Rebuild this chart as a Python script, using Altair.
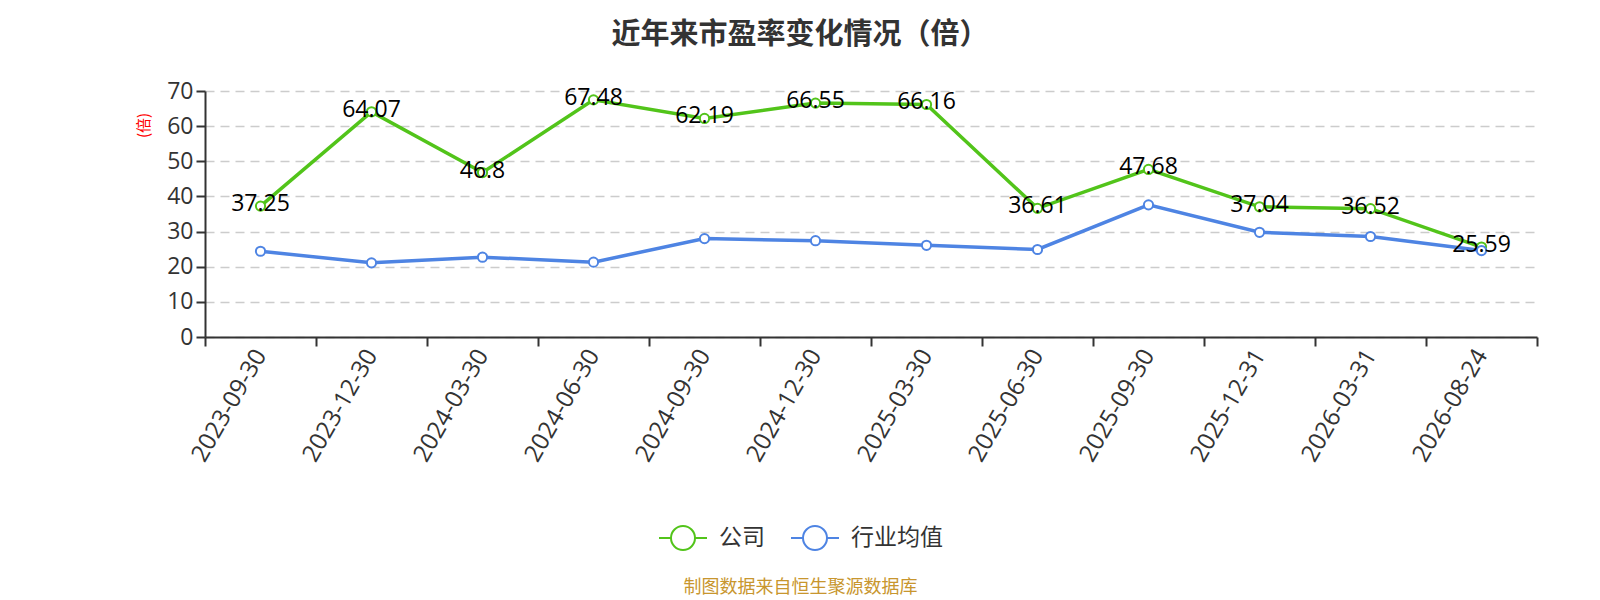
import altair as alt
import pandas as pd

dates = ["2023-09-30", "2023-12-30", "2024-03-30", "2024-06-30", "2024-09-30", "2024-12-30",
         "2025-03-30", "2025-06-30", "2025-09-30", "2025-12-31", "2026-03-31", "2026-08-24"]
company = [37.25, 64.07, 46.8, 67.48, 62.19, 66.55, 66.16, 36.61, 47.68, 37.04, 36.52, 25.59]
industry = [24.4, 21.1, 22.7, 21.3, 28.0, 27.4, 26.1, 24.9, 37.6, 29.8, 28.6, 24.6]
series_names = ["公司", "行业均值"]
series_colors = ["#52c41a", "#4e84e3"]
y_ticks = [0, 10, 20, 30, 40, 50, 60, 70]

rows = []
for d, c, i in zip(dates, company, industry):
    rows.append({"date": d, "series": series_names[0], "value": c, "order": 0})
    rows.append({"date": d, "series": series_names[1], "value": i, "order": 1})
df = pd.DataFrame(rows)

FONT = "Noto Sans CJK SC"
NUMFONT = "Open Sans"
legend_path = "M-1,0L-0.5,0M0.5,0L1,0M0.5,0A0.5,0.5,0,1,1,-0.5,0A0.5,0.5,0,1,1,0.5,0"

x_enc = alt.X(
    "date:N", sort=dates,
    scale=alt.Scale(paddingInner=0, paddingOuter=0),
    axis=alt.Axis(
        title="制图数据来自恒生聚源数据库", titleColor="#c8962e", titleFontSize=18,
        titleFontWeight="normal", titleFont=FONT, titleX=595, titleY=250,
        titleAlign="center", titleBaseline="middle", titleAnchor="start",
        labelAngle=-60, labelFontSize=24, labelColor="#333", labelFont=NUMFONT,
        labelPadding=5, tickBand="extent", tickSize=9, tickWidth=2, tickColor="#333",
        domainColor="#333", domainWidth=2, grid=False,
    ),
)
y_enc = alt.Y(
    "value:Q",
    scale=alt.Scale(domain=[0, 70], nice=False),
    axis=alt.Axis(
        values=y_ticks, title="(倍)", titleColor="#ff0000", titleFontSize=15,
        titleFontWeight="normal", titleFont=FONT, titleAngle=-90, titleX=-62, titleY=34,
        titleAlign="center", titleBaseline="middle",
        labelFontSize=23, labelColor="#333", labelFont=NUMFONT, labelPadding=3,
        tickSize=9, tickWidth=2, tickColor="#333", domainColor="#333", domainWidth=2,
        grid=True, gridColor="#cccccc", gridDash=[9, 6], gridWidth=1.3,
    ),
)
color_enc = alt.Color(
    "series:N",
    scale=alt.Scale(domain=series_names, range=series_colors),
    legend=alt.Legend(
        title=None, orient="none", direction="horizontal", legendX=453, legendY=422,
        symbolType=legend_path, symbolSize=2304, symbolStrokeWidth=2,
        symbolFillColor="white", labelFontSize=23, labelColor="#333", labelFont=FONT,
        labelOffset=11, columnPadding=22,
    ),
)

base = alt.Chart(df)
lines = base.mark_line(strokeWidth=3.5).encode(
    x=x_enc, y=y_enc, color=color_enc, detail="series:N", order="order:Q"
)
points = base.mark_point(shape="circle", filled=False, fill="white", fillOpacity=1,
                         opacity=1, size=85, strokeWidth=2).encode(
    x=x_enc, y=y_enc, color=alt.Color("series:N", scale=alt.Scale(domain=series_names, range=series_colors), legend=None)
)
labels = base.transform_filter(alt.datum.series == series_names[0]).mark_text(
    fontSize=23, color="#000", font=NUMFONT, baseline="middle", align="center", dy=-2
).encode(x=x_enc, y=y_enc, text=alt.Text("value:Q"))

chart = alt.layer(lines, points, labels).properties(
    width=1332, height=246,
    autosize=alt.AutoSizeParams(type="none"),
    padding={"left": 197, "top": 83, "right": 50, "bottom": 262},
    title=alt.TitleParams(
        "近年来市盈率变化情况（倍）", fontSize=29, fontWeight="bold", color="#333",
        font=FONT, anchor="middle", frame="group", dx=-71, offset=30,
    ),
).configure_view(stroke=None)

chart.save("out.html", embed_options={"renderer": "svg", "actions": False})
